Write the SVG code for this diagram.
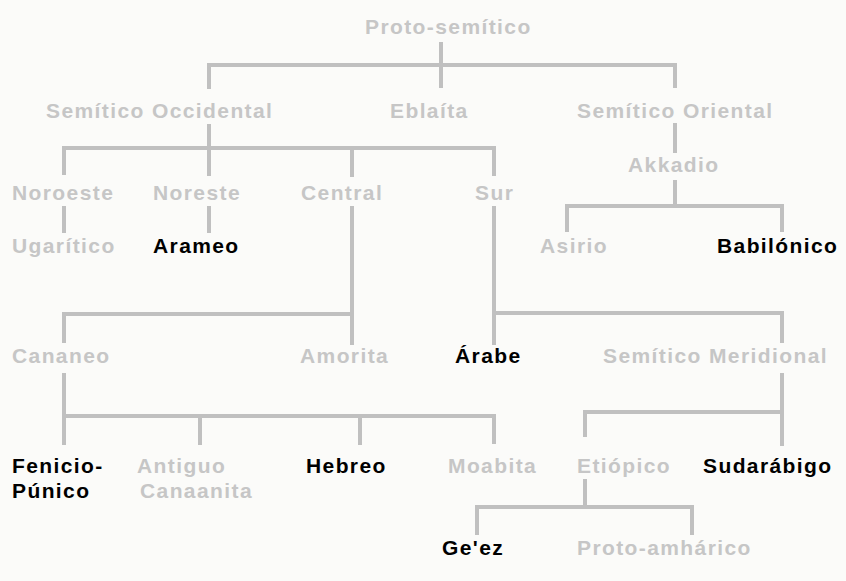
<svg xmlns="http://www.w3.org/2000/svg" width="846" height="581" viewBox="0 0 846 581">
<style>
text{font-family:"Liberation Sans",Arial,sans-serif;font-size:21px;font-weight:bold;letter-spacing:1.4px}
.g{fill:#c6c6c6}
.k{fill:#000}
.c path{fill:none;stroke:#c0c0c0;stroke-width:4}
</style>
<rect width="846" height="581" fill="#fbfbf9"/>
<g class="c" id="connectors">
<path d="M441,42V88M209,89V65H675V88"/>
<path d="M209,124V176M64,175V148H494V176M352,148V177"/>
<path d="M64,206V233M209,206V233"/>
<path d="M675,123V153M675,180V206M567,232V206H782V232"/>
<path d="M352,206V345M64,343V314H352"/>
<path d="M494,206V345M494,313H782V343"/>
<path d="M64,373V445M64,416H494V444M200,416V445M360,416V445"/>
<path d="M782,373V446M585,437V412H782"/>
<path d="M585,479V507M477,535V507H692V535"/>
</g>
<g id="proto"><text class="g" x="365" y="34">Proto-semítico</text></g>
<g id="occidental"><text class="g" x="46" y="118">Semítico Occidental</text></g>
<g id="eblaita"><text class="g" x="390" y="118">Eblaíta</text></g>
<g id="oriental"><text class="g" x="577" y="118">Semítico Oriental</text></g>
<g id="noroeste"><text class="g" x="12" y="200">Noroeste</text></g>
<g id="noreste"><text class="g" x="153" y="200">Noreste</text></g>
<g id="central"><text class="g" x="301" y="200">Central</text></g>
<g id="sur"><text class="g" x="475" y="200">Sur</text></g>
<g id="akkadio"><text class="g" x="628" y="172">Akkadio</text></g>
<g id="ugaritico"><text class="g" x="12" y="253">Ugarítico</text></g>
<g id="arameo"><text class="k" x="153" y="253">Arameo</text></g>
<g id="asirio"><text class="g" x="540" y="253">Asirio</text></g>
<g id="babilonico"><text class="k" x="717" y="253">Babilónico</text></g>
<g id="cananeo"><text class="g" x="12" y="363">Cananeo</text></g>
<g id="amorita"><text class="g" x="300" y="363">Amorita</text></g>
<g id="arabe"><text class="k" x="455" y="363">Árabe</text></g>
<g id="meridional"><text class="g" x="603" y="363">Semítico Meridional</text></g>
<g id="fenicio"><text class="k" x="12" y="473">Fenicio-</text><text class="k" x="12" y="498">Púnico</text></g>
<g id="antiguo"><text class="g" x="137" y="473">Antiguo</text><text class="g" x="140" y="498">Canaanita</text></g>
<g id="hebreo"><text class="k" x="306" y="473">Hebreo</text></g>
<g id="moabita"><text class="g" x="448" y="473">Moabita</text></g>
<g id="etiopico"><text class="g" x="577" y="473">Etiópico</text></g>
<g id="sudarabigo"><text class="k" x="703" y="473">Sudarábigo</text></g>
<g id="geez"><text class="k" x="442" y="555">Ge'ez</text></g>
<g id="protoamharico"><text class="g" x="577" y="555">Proto-amhárico</text></g>
</svg>
